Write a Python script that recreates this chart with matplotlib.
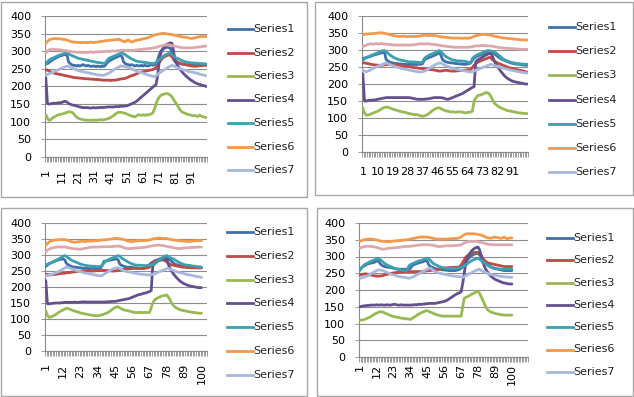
import matplotlib
matplotlib.use("Agg")
import matplotlib.pyplot as plt
from matplotlib.lines import Line2D
from matplotlib.patches import Rectangle

W, H = 634, 397
plt.rcParams['font.family'] = ['DejaVu Sans']

series_names = ["Series1", "Series2", "Series3", "Series4", "Series5", "Series6", "Series7"]
colors = ["#4070A8", "#BE4B48", "#98B954", "#63508E", "#3BA0B0", "#F29A4C", "#A8B8DC", "#DDA8AC"]

# ---------------- Panel 1 ----------------
p1_s1 = [268, 265, 268, 272, 275, 278, 280, 283, 285, 287,
         288, 290, 290, 292, 270, 265, 262, 260, 260, 258,
         260, 258, 260, 262, 260, 258, 260, 258, 257, 258,
         258, 256, 258, 257, 256, 258, 257, 262, 268, 272,
         275, 277, 280, 282, 284, 286, 288, 285, 270, 265,
         263, 262, 260, 262, 260, 258, 260, 259, 258, 260,
         258, 260, 259, 258, 260, 262, 260, 262, 264, 275,
         290, 300, 305, 308, 310, 312, 310, 308, 295, 275,
         270, 268, 266, 265, 264, 264, 263, 262, 262, 261,
         262, 261, 262, 260, 262, 261, 262, 262, 261, 262]
p1_s2 = [248, 246, 244, 242, 240, 238, 237, 236, 235, 234,
         233, 232, 231, 230, 229, 228, 227, 226, 225, 225,
         224, 224, 223, 223, 222, 222, 222, 221, 221, 221,
         220, 220, 220, 219, 219, 218, 218, 218, 218, 218,
         217, 218, 218, 218, 219, 220, 221, 222, 222, 223,
         225, 227, 229, 231, 232, 234, 236, 238, 240, 241,
         242, 243, 244, 245, 246, 247, 248, 250, 254, 260,
         268, 275, 280, 284, 286, 288, 290, 288, 283, 278,
         273, 270, 268, 266, 264, 263, 262, 261, 260, 259,
         258, 258, 257, 258, 258, 259, 259, 260, 260, 260]
p1_s3 = [120, 110, 104, 106, 110, 113, 116, 118, 120, 121,
         122, 123, 125, 126, 128, 128, 127, 124, 118, 113,
         110, 108, 107, 106, 105, 105, 104, 104, 105, 104,
         105, 104, 105, 105, 106, 105, 106, 107, 108, 110,
         112, 115, 118, 122, 125, 127, 127, 126, 125, 124,
         122, 120, 118, 116, 115, 114, 116, 120, 119, 118,
         120, 118, 120, 119, 121, 122, 125, 135, 150, 162,
         170, 175, 177, 178, 180, 180, 178, 175, 170, 162,
         155, 148, 140, 133, 128, 126, 124, 122, 120, 120,
         118, 117, 118, 116, 115, 119, 116, 114, 113, 112]
p1_s4 = [225, 152, 150, 151, 152, 153, 152, 153, 154, 154,
         155, 157, 158, 156, 152, 150, 148, 147, 146, 145,
         143, 142, 141, 140, 140, 140, 140, 139, 139, 140,
         140, 139, 140, 140, 141, 140, 141, 141, 142, 142,
         142, 142, 142, 143, 143, 143, 144, 144, 144, 145,
         145, 147, 149, 151, 153, 155, 158, 162, 166, 170,
         174, 178, 182, 186, 190, 194, 198, 202, 205, 230,
         270, 295, 305, 312, 318, 320, 322, 324, 322, 295,
         272, 262, 255, 248, 242, 237, 232, 228, 224, 220,
         217, 214, 211, 209, 207, 206, 204, 203, 202, 200]
p1_s5 = [262, 270, 275, 278, 280, 282, 284, 286, 288, 290,
         292, 293, 295, 295, 293, 290, 288, 286, 284, 282,
         280, 279, 278, 277, 276, 275, 274, 273, 272, 271,
         270, 269, 268, 268, 267, 266, 266, 268, 275, 280,
         282, 284, 286, 288, 290, 292, 294, 295, 293, 290,
         287, 284, 281, 278, 276, 274, 272, 271, 270, 270,
         269, 268, 268, 267, 266, 266, 265, 266, 268, 272,
         276, 280, 284, 287, 290, 292, 294, 295, 290, 285,
         282, 280, 278, 276, 274, 272, 270, 269, 268, 268,
         267, 267, 266, 266, 266, 265, 265, 265, 264, 264]
p1_s6 = [322, 328, 332, 334, 335, 336, 336, 335, 336, 335,
         334, 334, 333, 332, 330, 328, 327, 326, 326, 325,
         325, 325, 324, 325, 325, 325, 324, 325, 326, 325,
         325, 326, 326, 327, 328, 328, 329, 330, 330, 331,
         331, 332, 332, 333, 333, 334, 332, 330, 328, 327,
         330, 332, 328, 326, 328, 330, 331, 332, 333, 334,
         335, 336, 337, 338, 340, 342, 344, 346, 347, 348,
         349, 350, 350, 351, 350, 349, 348, 348, 347, 346,
         345, 344, 343, 342, 341, 340, 340, 339, 338, 337,
         336, 337, 338, 339, 340, 341, 342, 342, 341, 342]
p1_s7 = [232, 234, 236, 238, 240, 242, 244, 246, 248, 250,
         252, 254, 256, 258, 257, 255, 253, 251, 249, 247,
         245, 244, 243, 242, 241, 240, 239, 238, 237, 236,
         235, 234, 233, 233, 232, 232, 232, 234, 236, 238,
         241, 244, 247, 250, 253, 255, 258, 258, 257, 256,
         255, 254, 252, 250, 248, 246, 244, 242, 240, 239,
         238, 236, 234, 233, 232, 230, 229, 228, 230, 234,
         238, 241, 244, 247, 250, 253, 256, 258, 260, 258,
         256, 254, 252, 250, 249, 247, 246, 245, 243, 242,
         241, 240, 239, 238, 237, 235, 234, 233, 232, 230]
p1_s8 = [295, 300, 304, 305, 306, 305, 305, 304, 305, 304,
         303, 302, 302, 301, 300, 300, 299, 298, 298, 297,
         297, 297, 296, 297, 297, 296, 297, 297, 298, 297,
         297, 298, 298, 298, 299, 299, 299, 300, 300, 300,
         300, 301, 301, 300, 301, 302, 302, 303, 303, 302,
         302, 303, 302, 302, 303, 303, 304, 304, 305, 305,
         306, 306, 307, 307, 308, 308, 309, 310, 311, 312,
         314, 315, 316, 317, 318, 318, 318, 317, 316, 315,
         314, 313, 312, 311, 310, 310, 310, 309, 310, 310,
         310, 310, 311, 311, 312, 312, 313, 314, 314, 315]

# ---------------- Panel 2 ----------------
p2_s1 = [275, 276, 278, 279, 280, 282, 284, 286, 287, 288,
         290, 291, 293, 295, 272, 268, 265, 263, 262, 261,
         260, 260, 259, 259, 258, 258, 258, 257, 258, 258,
         257, 258, 257, 258, 258, 258, 260, 270, 274, 276,
         278, 280, 282, 284, 286, 289, 292, 285, 272, 268,
         265, 264, 263, 262, 262, 261, 260, 260, 259, 259,
         258, 258, 258, 259, 260, 262, 270, 276, 279, 282,
         284, 286, 288, 290, 292, 294, 295, 294, 292, 290,
         286, 282, 278, 275, 272, 270, 268, 266, 264, 262,
         261, 260, 259, 258, 258, 257, 256, 256, 255, 255]
p2_s2 = [262, 262, 261, 260, 259, 258, 257, 256, 256, 255,
         255, 255, 256, 256, 257, 257, 258, 258, 257, 256,
         255, 255, 254, 254, 253, 253, 252, 252, 251, 250,
         249, 248, 248, 247, 246, 246, 245, 245, 244, 244,
         243, 242, 242, 241, 240, 239, 238, 238, 239, 240,
         240, 240, 239, 238, 238, 238, 238, 239, 239, 240,
         240, 241, 241, 242, 242, 243, 248, 255, 260, 263,
         266, 268, 270, 272, 274, 276, 278, 278, 272, 268,
         265, 262, 260, 258, 256, 254, 252, 250, 248, 247,
         246, 244, 243, 242, 241, 240, 239, 238, 236, 235]
p2_s3 = [130, 115, 108, 109, 110, 112, 114, 116, 118, 120,
         123, 126, 129, 131, 132, 132, 130, 128, 126, 125,
         123, 122, 120, 119, 118, 117, 116, 114, 113, 112,
         111, 110, 110, 109, 108, 106, 105, 106, 108, 110,
         114, 118, 122, 125, 128, 130, 130, 128, 125, 123,
         121, 120, 119, 118, 118, 118, 117, 118, 118, 118,
         117, 116, 115, 116, 117, 118, 120, 150, 158, 165,
         167, 168, 170, 172, 175, 174, 172, 165, 155, 145,
         140, 136, 133, 130, 128, 126, 124, 122, 121, 120,
         119, 118, 117, 116, 115, 115, 114, 114, 113, 113]
p2_s4 = [230, 150, 150, 151, 152, 152, 153, 153, 154, 155,
         156, 157, 158, 159, 160, 160, 160, 160, 160, 160,
         160, 160, 160, 160, 160, 160, 160, 160, 160, 159,
         158, 157, 156, 155, 155, 155, 155, 155, 156, 156,
         157, 158, 159, 160, 160, 160, 160, 160, 159, 158,
         156, 155, 156, 158, 160, 162, 164, 166, 168, 170,
         172, 175, 178, 181, 184, 187, 190, 192, 265, 270,
         273, 276, 279, 282, 285, 287, 289, 290, 282, 270,
         260, 252, 245, 238, 232, 226, 221, 217, 214, 211,
         209, 207, 206, 205, 204, 203, 202, 201, 200, 200]
p2_s5 = [270, 274, 277, 280, 282, 284, 286, 288, 290, 292,
         294, 296, 298, 298, 295, 291, 287, 283, 280, 277,
         275, 273, 271, 270, 269, 268, 267, 266, 265, 265,
         265, 265, 264, 264, 263, 263, 264, 275, 279, 282,
         285, 287, 289, 291, 293, 296, 298, 296, 290, 285,
         281, 278, 275, 273, 271, 270, 269, 268, 268, 268,
         267, 267, 266, 265, 263, 262, 275, 280, 283, 286,
         288, 290, 292, 294, 296, 298, 298, 297, 296, 295,
         292, 288, 284, 280, 276, 272, 270, 268, 266, 264,
         263, 262, 261, 260, 260, 259, 259, 258, 258, 258]
p2_s6 = [345, 346, 347, 347, 348, 348, 348, 349, 349, 350,
         350, 351, 350, 349, 348, 347, 345, 344, 343, 342,
         341, 340, 340, 340, 341, 340, 340, 339, 340, 340,
         339, 340, 340, 341, 340, 342, 343, 344, 343, 343,
         342, 343, 343, 342, 342, 341, 340, 339, 338, 338,
         337, 337, 336, 336, 335, 335, 335, 335, 335, 335,
         334, 335, 335, 334, 335, 336, 338, 340, 342, 343,
         344, 345, 346, 346, 346, 345, 345, 344, 342, 341,
         340, 339, 338, 337, 336, 335, 335, 334, 334, 333,
         333, 332, 332, 331, 331, 330, 330, 330, 329, 330]
p2_s7 = [240, 238, 236, 238, 240, 243, 245, 248, 250, 252,
         254, 256, 258, 260, 262, 260, 258, 256, 254, 252,
         250, 249, 248, 246, 245, 244, 243, 242, 241, 240,
         239, 238, 237, 236, 236, 235, 236, 238, 240, 243,
         246, 249, 252, 255, 258, 260, 262, 262, 259, 256,
         254, 252, 250, 248, 246, 245, 244, 243, 242, 241,
         240, 239, 238, 237, 236, 235, 236, 238, 240, 242,
         244, 246, 248, 250, 252, 254, 256, 258, 257, 255,
         253, 252, 250, 249, 247, 246, 245, 244, 242, 241,
         240, 239, 238, 237, 236, 235, 234, 233, 233, 232]
p2_s8 = [310, 312, 314, 316, 318, 318, 317, 318, 319, 318,
         318, 319, 318, 318, 317, 317, 316, 316, 315, 315,
         315, 314, 315, 315, 314, 315, 314, 315, 314, 315,
         315, 316, 316, 317, 318, 318, 318, 318, 318, 318,
         318, 317, 317, 316, 316, 315, 314, 313, 312, 312,
         311, 310, 310, 309, 309, 308, 308, 308, 308, 308,
         308, 308, 308, 308, 308, 309, 310, 311, 312, 312,
         312, 313, 313, 313, 313, 312, 312, 312, 311, 310,
         309, 308, 307, 307, 306, 306, 305, 305, 305, 304,
         304, 304, 303, 303, 303, 302, 302, 302, 302, 302]

# ---------------- Panel 3 ----------------
p3_s1 = [265, 268, 272, 275, 277, 279, 281, 283, 285, 286,
         287, 288, 285, 275, 270, 267, 265, 263, 262, 262,
         261, 260, 260, 259, 258, 258, 258, 258, 257, 258,
         258, 258, 257, 258, 258, 260, 270, 280, 281, 282,
         283, 284, 285, 286, 287, 288, 285, 272, 268, 266,
         264, 263, 262, 262, 262, 261, 260, 260, 259, 259,
         258, 258, 258, 259, 260, 262, 270, 275, 278, 281,
         283, 285, 287, 289, 291, 292, 292, 290, 287, 285,
         280, 276, 272, 270, 268, 267, 266, 265, 264, 263,
         263, 262, 262, 261, 261, 261, 260, 260, 260, 260]
p3_s2 = [240, 239, 238, 238, 238, 239, 239, 240, 241, 242,
         242, 243, 243, 244, 245, 245, 246, 247, 247, 248,
         248, 249, 249, 250, 250, 250, 250, 251, 250, 250,
         250, 250, 251, 251, 251, 252, 252, 252, 252, 252,
         251, 251, 250, 250, 250, 251, 252, 253, 254, 255,
         255, 256, 256, 257, 257, 258, 258, 258, 258, 258,
         258, 258, 259, 259, 260, 260, 262, 270, 275, 280,
         281, 282, 283, 284, 285, 284, 282, 278, 274, 271,
         269, 268, 267, 266, 265, 264, 263, 262, 262, 261,
         261, 261, 260, 260, 260, 260, 260, 260, 260, 260]
p3_s3 = [125, 112, 105, 106, 108, 110, 113, 116, 120, 123,
         126, 128, 131, 133, 133, 131, 129, 127, 125, 124,
         122, 121, 119, 118, 117, 116, 115, 114, 113, 112,
         111, 111, 110, 110, 111, 112, 114, 115, 117, 119,
         122, 125, 129, 133, 135, 138, 138, 135, 132, 130,
         128, 127, 126, 125, 124, 122, 121, 120, 120, 120,
         121, 120, 120, 121, 120, 120, 121, 135, 150, 158,
         163, 165, 168, 170, 172, 173, 174, 175, 168, 160,
         150, 143, 138, 135, 132, 130, 128, 127, 126, 125,
         124, 123, 122, 121, 120, 120, 119, 118, 118, 118]
p3_s4 = [220, 148, 147, 148, 149, 149, 150, 150, 150, 150,
         151, 151, 152, 152, 152, 152, 152, 152, 153, 152,
         152, 152, 153, 153, 154, 153, 153, 153, 153, 153,
         153, 153, 153, 153, 153, 153, 153, 153, 153, 154,
         154, 154, 155, 155, 155, 156, 157, 158, 159, 160,
         161, 162, 163, 164, 166, 168, 170, 172, 174, 176,
         177, 178, 180, 181, 182, 184, 186, 188, 265, 272,
         276, 280, 283, 285, 286, 287, 288, 286, 270, 258,
         250, 242, 236, 230, 225, 220, 216, 213, 210, 208,
         206, 204, 203, 202, 201, 200, 199, 198, 198, 198]
p3_s5 = [270, 271, 273, 275, 277, 280, 282, 285, 287, 290,
         293, 296, 298, 296, 292, 289, 285, 282, 280, 278,
         276, 274, 272, 270, 269, 268, 267, 266, 266, 265,
         265, 265, 264, 264, 264, 265, 268, 275, 280, 283,
         286, 288, 290, 292, 294, 296, 298, 296, 292, 288,
         285, 282, 279, 276, 274, 272, 270, 269, 268, 268,
         268, 268, 267, 267, 267, 268, 268, 269, 270, 272,
         276, 280, 284, 287, 290, 294, 297, 298, 295, 292,
         290, 288, 285, 282, 279, 276, 274, 272, 270, 269,
         268, 268, 267, 266, 265, 265, 264, 263, 263, 262]
p3_s6 = [330, 336, 340, 343, 345, 346, 347, 347, 348, 348,
         348, 348, 348, 347, 346, 344, 342, 341, 340, 340,
         341, 342, 342, 343, 343, 342, 343, 343, 344, 343,
         344, 344, 345, 345, 346, 346, 347, 347, 348, 348,
         349, 350, 350, 351, 352, 352, 351, 350, 350, 349,
         348, 346, 344, 343, 342, 342, 343, 344, 344, 345,
         345, 345, 345, 346, 345, 346, 347, 348, 350, 351,
         352, 352, 353, 353, 352, 352, 352, 351, 350, 349,
         348, 347, 346, 346, 345, 345, 344, 344, 343, 343,
         343, 342, 343, 343, 344, 344, 345, 345, 345, 345]
p3_s7 = [235, 236, 237, 238, 240, 242, 244, 246, 248, 250,
         253, 256, 259, 262, 262, 260, 258, 256, 254, 252,
         250, 249, 248, 247, 245, 244, 243, 242, 241, 240,
         239, 238, 237, 236, 235, 235, 237, 240, 243, 246,
         249, 252, 255, 257, 259, 260, 260, 258, 255, 252,
         250, 249, 248, 247, 246, 245, 244, 243, 242, 241,
         240, 240, 239, 239, 238, 238, 238, 239, 240, 241,
         243, 245, 247, 249, 251, 253, 255, 258, 258, 256,
         254, 252, 250, 248, 246, 245, 244, 243, 242, 240,
         239, 238, 237, 236, 235, 234, 233, 232, 231, 230]
p3_s8 = [310, 315, 318, 320, 322, 323, 324, 325, 325, 325,
         325, 325, 325, 324, 323, 322, 321, 320, 320, 319,
         319, 318, 318, 319, 320, 321, 322, 323, 324, 325,
         325, 325, 325, 325, 325, 325, 326, 326, 326, 326,
         326, 326, 326, 327, 327, 328, 328, 327, 326, 324,
         322, 321, 320, 320, 320, 321, 321, 322, 322, 322,
         323, 323, 324, 324, 325, 326, 327, 328, 329, 330,
         330, 331, 331, 330, 330, 329, 328, 327, 326, 325,
         324, 323, 322, 321, 320, 320, 321, 321, 322, 322,
         322, 323, 323, 324, 324, 324, 325, 325, 325, 325]

# ---------------- Panel 4 ----------------
p4_s1 = [260, 266, 270, 272, 275, 277, 279, 280, 281, 282,
         284, 286, 290, 280, 275, 272, 270, 269, 268, 268,
         267, 266, 265, 264, 263, 262, 262, 262, 262, 262,
         262, 262, 262, 265, 272, 275, 277, 279, 280, 282,
         283, 284, 286, 288, 285, 275, 270, 268, 266, 264,
         263, 262, 262, 261, 260, 260, 259, 259, 258, 258,
         258, 258, 258, 259, 260, 262, 265, 268, 275, 285,
         290, 295, 300, 303, 306, 308, 310, 309, 305, 300,
         292, 285, 280, 276, 272, 269, 267, 265, 264, 263,
         262, 261, 260, 259, 258, 258, 258, 258, 258, 258]
p4_s2 = [245, 246, 247, 248, 248, 247, 246, 245, 244, 243,
         242, 242, 241, 242, 242, 243, 245, 246, 247, 248,
         249, 250, 251, 252, 252, 253, 253, 254, 254, 255,
         255, 255, 255, 255, 255, 255, 255, 255, 255, 255,
         255, 256, 256, 257, 257, 258, 258, 259, 259, 260,
         261, 262, 263, 264, 265, 265, 266, 266, 267, 267,
         267, 268, 268, 268, 268, 269, 275, 282, 290, 298,
         302, 305, 308, 310, 312, 312, 312, 312, 311, 305,
         295, 290, 285, 282, 280, 279, 278, 277, 276, 275,
         274, 273, 272, 271, 270, 270, 270, 270, 270, 270]
p4_s3 = [110, 110, 111, 112, 114, 116, 118, 120, 123, 126,
         129, 131, 133, 135, 135, 134, 132, 130, 128, 126,
         124, 122, 121, 120, 119, 118, 117, 116, 115, 115,
         114, 114, 113, 112, 115, 118, 121, 124, 127, 130,
         132, 134, 136, 138, 138, 136, 134, 132, 130, 128,
         126, 125, 124, 123, 122, 122, 122, 122, 122, 122,
         122, 122, 122, 122, 122, 122, 122, 150, 175, 178,
         180, 182, 185, 188, 190, 192, 195, 195, 190, 180,
         170, 160, 150, 142, 138, 135, 133, 132, 130, 129,
         128, 127, 126, 126, 125, 125, 125, 125, 125, 125]
p4_s4 = [150, 151, 152, 153, 153, 154, 154, 155, 155, 155,
         155, 156, 155, 155, 156, 155, 155, 155, 156, 155,
         155, 156, 157, 157, 156, 155, 155, 156, 155, 155,
         155, 155, 155, 155, 155, 156, 156, 156, 157, 157,
         157, 158, 158, 159, 159, 160, 160, 160, 160, 160,
         161, 162, 163, 164, 165, 166, 168, 170, 173, 176,
         179, 182, 185, 188, 190, 192, 195, 220, 250, 280,
         295, 305, 312, 318, 322, 325, 327, 328, 320, 300,
         285, 272, 262, 255, 248, 243, 239, 235, 232, 230,
         228, 226, 224, 222, 221, 220, 219, 218, 218, 218]
p4_s5 = [258, 265, 270, 275, 278, 280, 283, 285, 287, 289,
         291, 293, 295, 292, 288, 284, 280, 277, 274, 272,
         270, 268, 266, 264, 263, 262, 261, 260, 259, 258,
         258, 260, 272, 276, 278, 280, 282, 284, 286, 287,
         288, 290, 292, 294, 295, 293, 288, 283, 279, 276,
         274, 272, 270, 268, 267, 266, 265, 265, 265, 265,
         265, 265, 265, 265, 265, 266, 268, 270, 272, 275,
         278, 282, 285, 288, 290, 292, 294, 295, 292, 288,
         285, 282, 278, 275, 272, 270, 268, 266, 265, 264,
         263, 263, 262, 262, 262, 262, 262, 262, 262, 262]
p4_s6 = [345, 347, 349, 350, 351, 352, 352, 352, 352, 351,
         350, 349, 348, 347, 346, 345, 345, 345, 344, 345,
         345, 345, 346, 346, 347, 347, 348, 348, 349, 349,
         350, 350, 351, 352, 353, 354, 355, 356, 357, 358,
         358, 358, 358, 358, 358, 357, 356, 355, 354, 353,
         352, 352, 352, 352, 352, 352, 352, 352, 353, 353,
         353, 353, 354, 354, 355, 356, 358, 362, 365, 367,
         368, 368, 368, 368, 368, 367, 367, 366, 365, 364,
         362, 360, 358, 356, 355, 355, 355, 357, 358, 357,
         356, 355, 354, 356, 358, 355, 353, 354, 356, 355]
p4_s7 = [235, 236, 238, 239, 240, 242, 245, 248, 250, 253,
         256, 258, 260, 260, 259, 258, 256, 254, 252, 250,
         248, 246, 245, 244, 242, 241, 240, 239, 238, 238,
         237, 236, 235, 236, 238, 240, 242, 245, 248, 250,
         252, 255, 258, 260, 262, 264, 265, 262, 258, 255,
         253, 252, 250, 249, 248, 247, 246, 245, 244, 243,
         242, 242, 241, 241, 240, 240, 239, 238, 240, 243,
         245, 248, 250, 252, 255, 257, 259, 261, 262, 258,
         256, 254, 252, 250, 248, 247, 246, 245, 244, 243,
         242, 241, 241, 240, 240, 239, 239, 238, 238, 238]
p4_s8 = [325, 327, 328, 330, 330, 331, 330, 330, 330, 329,
         328, 327, 326, 324, 322, 322, 322, 323, 324, 325,
         325, 325, 326, 326, 327, 327, 328, 328, 329, 330,
         330, 330, 330, 331, 331, 332, 332, 333, 334, 334,
         335, 335, 335, 335, 335, 335, 334, 334, 333, 332,
         331, 330, 330, 330, 331, 331, 332, 332, 332, 332,
         332, 332, 333, 333, 333, 334, 335, 338, 340, 342,
         344, 345, 345, 345, 345, 345, 345, 344, 343, 342,
         341, 340, 338, 337, 336, 336, 335, 335, 335, 335,
         335, 335, 335, 335, 335, 335, 335, 335, 335, 335]

y_ticks = [0, 50, 100, 150, 200, 250, 300, 350, 400]
p1_xlabels = [1, 11, 21, 31, 41, 51, 61, 71, 81, 91]
p2_xlabels = [1, 10, 19, 28, 37, 46, 55, 64, 73, 82, 91]
p3_xlabels = [1, 12, 23, 34, 45, 56, 67, 78, 89, 100]
p4_xlabels = [1, 12, 23, 34, 45, 56, 67, 78, 89, 100]

fig = plt.figure(figsize=(W / 100, H / 100), dpi=100)
fig.patch.set_facecolor("white")

GRID = "#8E8E8E"
AX = "#8A8A8A"


def fx(x):
    return x / W


def fy(y):
    return 1 - y / H


def panel(frame, axbox, data, ncat, labs, rotation, legend, xlabel_pad):
    fx0, fy0, fx1, fy1 = frame
    rect = Rectangle((fx(fx0), fy(fy1)), fx(fx1) - fx(fx0), fy(fy0) - fy(fy1),
                     transform=fig.transFigure, facecolor="none",
                     edgecolor="#A8A8A8", lw=1.0, zorder=-1)
    fig.patches.append(rect)
    x0, y0, x1, y1 = axbox
    ax = fig.add_axes([fx(x0), fy(y1), fx(x1) - fx(x0), fy(y0) - fy(y1)])
    ax.set_facecolor("none")
    n = len(data[0])
    xs = list(range(1, n + 1))
    for i, s in enumerate(data):
        ax.plot(xs, s, color=colors[i], lw=2.0, solid_joinstyle="round",
                solid_capstyle="round", zorder=3 + i)
    ax.set_ylim(0, 400)
    ax.set_xlim(0.5, ncat + 0.5)
    ax.set_yticks(y_ticks)
    ax.set_yticklabels([str(v) for v in y_ticks], fontsize=8)
    ax.set_xticks(labs)
    ax.set_xticklabels([str(v) for v in labs], fontsize=8, rotation=rotation)
    ax.set_xticks([k + 0.5 for k in range(0, ncat + 1)], minor=True)
    ax.tick_params(axis="x", which="major", length=0, pad=xlabel_pad)
    ax.tick_params(axis="x", which="minor", length=3.5, width=0.6, color=AX)
    ax.tick_params(axis="y", length=3, width=0.6, color=AX, pad=7)
    ax.grid(axis="y", color=GRID, lw=0.8)
    ax.set_axisbelow(True)
    for sp in ["top", "right"]:
        ax.spines[sp].set_visible(False)
    for sp in ["left", "bottom"]:
        ax.spines[sp].set_color(AX)
        ax.spines[sp].set_linewidth(0.8)
    lx0, lx1, ly0, lstep = legend
    for i, name in enumerate(series_names):
        yy = ly0 + i * lstep
        fig.lines.append(Line2D([fx(lx0), fx(lx1)], [fy(yy), fy(yy)], transform=fig.transFigure,
                                color=colors[i], lw=2.0))
        fig.text(fx(lx1 + 0.5), fy(yy), name, fontsize=8, va="center", ha="left", color="#222222")
    return ax


panel((1, 2, 307, 197), (45, 16, 207, 157),
      [p1_s1, p1_s2, p1_s3, p1_s4, p1_s5, p1_s6, p1_s7, p1_s8],
      100, p1_xlabels, 90, (228, 253, 29, 23.5), 9)
panel((315, 2, 633, 195), (362, 16, 528, 152),
      [p2_s1, p2_s2, p2_s3, p2_s4, p2_s5, p2_s6, p2_s7, p2_s8],
      100, p2_xlabels, 0, (549, 575, 27, 24.2), 11)
panel((1, 208, 307, 396), (45, 223, 207, 351),
      [p3_s1, p3_s2, p3_s3, p3_s4, p3_s5, p3_s6, p3_s7, p3_s8],
      103, p3_xlabels, 90, (227, 253, 232, 23.8), 9)
panel((317, 208, 633, 396), (359, 223, 528, 357),
      [p4_s1, p4_s2, p4_s3, p4_s4, p4_s5, p4_s6, p4_s7, p4_s8],
      110, p4_xlabels, 90, (547, 573, 238, 22.3), 5)

fig.savefig("out.png", dpi=100)
